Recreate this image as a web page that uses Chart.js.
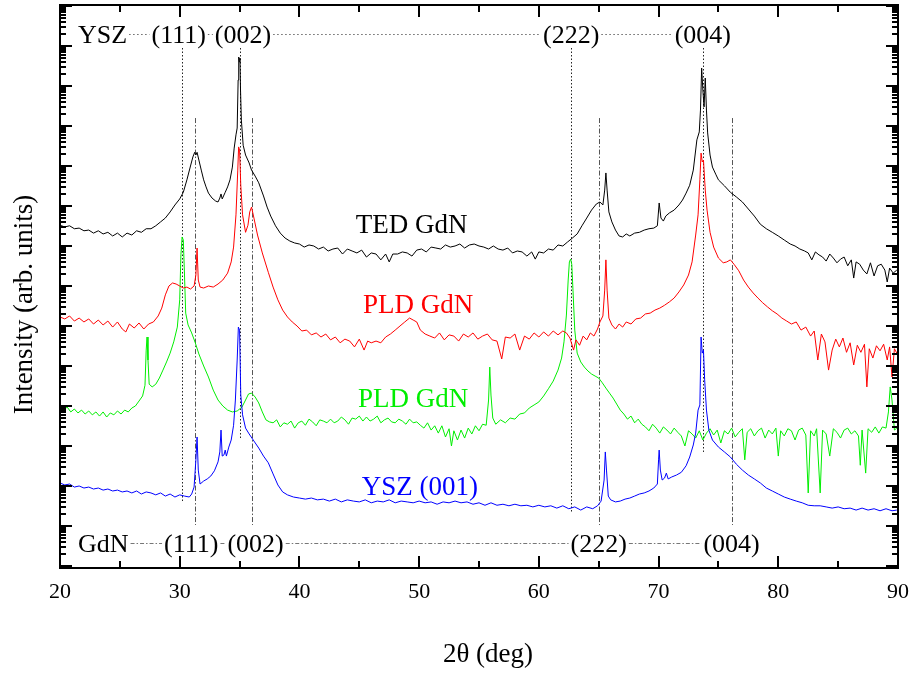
<!DOCTYPE html>
<html>
<head>
<meta charset="utf-8">
<title>XRD GdN on YSZ</title>
<script src="https://cdn.jsdelivr.net/npm/chart.js@4.4.1/dist/chart.umd.min.js"></script>
<style>
  html, body { margin: 0; padding: 0; background: #fff; }
  #wrap { width: 912px; height: 673px; }
</style>
</head>
<body>
<div id="wrap"><canvas id="xrd" width="912" height="673"></canvas></div>
<script>
// theta-2theta scans, each sample shifted by a constant factor on the log axis

// TED GdN (black)
const tedTheta = [20.0,20.4,20.8,21.2,21.6,22.0,22.4,22.8,23.2,23.6,24.0,24.4,24.8,25.2,25.6,26.0,26.4,26.8,27.2,27.6,28.0,28.4,28.8,29.2,29.6,30.0,
  30.3,30.6,30.9,31.1,31.25,31.35,31.45,31.6,31.8,32.0,32.2,32.4,32.7,33.0,33.2,33.35,33.45,33.55,33.8,34.0,
  34.2,34.4,34.55,34.7,34.8,34.88,34.93,34.98,35.03,35.08,35.15,35.3,35.5,35.8,36.0,36.3,36.6,37.0,37.3,37.6,
  38.0,38.4,38.8,39.2,39.6,40.0,40.4,40.8,41.2,41.6,42.0,42.4,42.8,43.2,43.6,44.0,44.4,44.8,45.2,45.6,46.0,46.4,46.8,47.2,47.5,47.8,
  48.2,48.6,49.0,49.4,49.8,50.2,50.6,51.0,51.4,51.8,52.2,52.6,53.0,53.4,53.8,54.2,54.6,55.0,55.4,55.8,56.2,56.6,57.0,57.4,57.8,58.2,58.6,59.0,59.4,59.7,
  60.0,60.4,60.8,61.2,61.6,62.0,62.4,62.8,63.2,63.6,64.0,64.4,64.8,65.1,65.35,65.5,65.6,65.7,65.85,66.1,66.4,66.7,67.0,
  67.3,67.6,68.0,68.4,68.8,69.2,69.6,69.9,70.05,70.2,70.4,70.6,70.9,71.3,71.7,72.0,72.3,72.6,72.9,73.2,
  73.4,73.5,73.6,73.7,73.8,73.9,74.0,74.1,74.3,74.5,74.8,75.0,75.5,76.0,76.5,77.0,77.5,78.0,78.5,79.0,
  79.5,80.0,80.5,81.0,81.4,81.8,82.2,82.5,82.8,83.1,83.4,83.7,84.0,84.3,84.6,84.9,85.2,85.5,85.8,86.1,
  86.3,86.5,86.8,87.1,87.4,87.7,88.0,88.3,88.6,88.9,89.1,89.3,89.6,89.9];
const tedCounts = [3.3e8,3.0e8,3.2e8,2.7e8,2.8e8,2.4e8,2.5e8,2.1e8,2.4e8,2.0e8,2.2e8,1.78e8,2.1e8,1.68e8,2.1e8,1.88e8,2.4e8,2.2e8,2.7e8,2.7e8,3.2e8,4.0e8,5.0e8,7.1e8,1.06e9,1.5e9,
  2.2e9,4.5e9,1.0e10,1.68e10,2.2e10,1.88e10,2.2e10,1.41e10,7.9e9,4.5e9,3.0e9,2.1e9,1.58e9,1.33e9,1.26e9,1.58e9,2.0e9,1.5e9,2.2e9,3.0e9,
  4.5e9,9.4e9,2.8e10,6.0e10,8.9e10,1.41e12,5.3e12,4.0e12,5.0e12,7.9e11,1.41e11,3.3e10,1.88e10,1.19e10,7.9e9,5.6e9,3.8e9,1.78e9,9.4e8,5.6e8,
  3.2e8,2.1e8,1.58e8,1.33e8,1.19e8,1.12e8,9.4e7,1.06e8,1.0e8,8.4e7,9.4e7,7.5e7,8.4e7,8.9e7,6.3e7,8.4e7,7.5e7,6.7e7,7.9e7,5.3e7,6.7e7,6.3e7,4.5e7,6.3e7,4.0e7,6.3e7,
  6.3e7,7.1e7,6.7e7,5.6e7,7.9e7,8.4e7,7.1e7,9.4e7,8.9e7,8.4e7,1.06e8,9.4e7,1.0e8,1.12e8,8.9e7,1.06e8,1.12e8,1.0e8,9.4e7,8.4e7,1.0e8,8.4e7,7.9e7,8.9e7,6.7e7,7.5e7,7.1e7,5.6e7,7.1e7,4.7e7,
  7.1e7,6.7e7,8.4e7,7.9e7,1.06e8,1.0e8,1.26e8,1.58e8,2.0e8,3.2e8,5.0e8,7.9e8,1.12e9,1.26e9,1.06e9,2.5e9,6.7e9,2.5e9,7.1e8,4.0e8,2.5e8,1.78e8,1.68e8,
  2.0e8,1.78e8,2.1e8,2.2e8,2.5e8,2.7e8,2.8e8,3.2e8,1.19e9,5.0e8,4.2e8,5.6e8,6.7e8,7.9e8,1.06e9,1.41e9,2.1e9,3.3e9,7.9e9,4.5e10,
  7.1e10,2.5e11,2.8e12,7.9e11,3.0e11,1.58e12,2.5e11,6.7e10,1.88e10,9.4e9,6.0e9,4.5e9,3.2e9,2.2e9,1.68e9,1.26e9,8.4e8,5.6e8,3.5e8,2.7e8,
  2.2e8,1.78e8,1.41e8,1.12e8,1.0e8,8.4e7,7.5e7,6.7e7,4.5e7,7.1e7,6.0e7,5.3e7,4.2e7,6.3e7,5.0e7,3.8e7,4.7e7,5.3e7,3.2e7,4.5e7,
  1.58e7,4.0e7,3.5e7,2.5e7,2.0e7,3.8e7,1.78e7,3.2e7,3.5e7,2.5e7,1.26e7,2.8e7,2.1e7,2.5e7];

// PLD GdN, first film (red)
const pldRedTheta = [20.0,20.4,20.8,21.2,21.6,22.0,22.4,22.8,23.2,23.6,24.0,24.4,24.8,25.2,25.5,25.8,26.2,26.6,27.0,27.4,
  27.8,28.2,28.5,28.8,29.1,29.4,29.7,30.0,30.3,30.6,30.9,31.2,31.35,31.45,31.55,31.7,32.0,32.4,32.8,33.2,
  33.6,34.0,34.3,34.5,34.7,34.85,34.92,35.0,35.1,35.25,35.5,35.7,35.85,36.0,36.2,36.5,36.9,37.4,37.8,38.2,
  38.6,39.0,39.4,39.8,40.2,40.6,41.0,41.4,41.8,42.2,42.6,43.0,43.4,43.8,44.2,44.6,45.0,45.4,45.7,46.0,
  46.4,46.8,47.2,47.6,48.0,48.4,48.8,49.2,49.5,49.8,50.1,50.5,50.9,51.3,51.7,52.1,52.5,52.9,53.3,53.7,
  54.1,54.5,54.9,55.3,55.7,56.1,56.5,56.9,57.2,57.6,58.0,58.4,58.8,59.2,59.6,60.0,60.4,60.8,61.2,61.6,
  62.0,62.3,62.6,62.9,63.1,63.4,63.7,64.0,64.3,64.6,64.9,65.1,65.35,65.5,65.6,65.7,65.85,66.1,66.4,66.7,
  67.0,67.3,67.7,68.1,68.5,68.9,69.3,69.7,70.1,70.5,70.9,71.3,71.7,72.1,72.5,72.8,73.1,73.3,73.45,73.55,
  73.65,73.75,73.9,74.05,74.3,74.6,75.0,75.4,75.7,76.0,76.3,76.7,77.1,77.5,77.9,78.3,78.7,79.1,79.5,79.9,
  80.3,80.7,81.1,81.5,81.9,82.3,82.7,83.0,83.3,83.6,83.9,84.2,84.5,84.8,85.1,85.4,85.7,86.0,86.3,86.6,
  86.9,87.2,87.4,87.6,87.9,88.2,88.5,88.8,89.1,89.3,89.5,89.7,89.9];
const pldRedCounts = [1.68e6,1.5e6,1.78e6,1.33e6,1.58e6,1.26e6,1.5e6,1.12e6,1.41e6,1.06e6,1.33e6,9.4e5,1.26e6,8.4e5,7.1e5,1.12e6,8.9e5,1.19e6,8.4e5,1.12e6,
  1.26e6,1.78e6,2.8e6,6.0e6,1.0e7,1.19e7,1.12e7,1.0e7,8.9e6,9.4e6,8.4e6,1.0e7,1.88e7,8.9e7,1.41e7,9.4e6,8.9e6,1.0e7,9.4e6,1.12e7,
  1.41e7,2.1e7,4.0e7,9.4e7,6.0e8,7.9e9,3.0e10,2.5e10,3.3e9,6.0e8,2.2e8,3.3e8,7.1e8,9.4e8,5.0e8,1.88e8,6.7e7,2.2e7,9.4e6,4.5e6,
  2.5e6,1.68e6,1.26e6,1.0e6,7.5e5,7.9e5,6.0e5,6.7e5,5.3e5,6.3e5,4.5e5,5.3e5,3.8e5,4.7e5,4.2e5,3.0e5,4.7e5,2.5e5,4.2e5,3.8e5,
  4.2e5,3.8e5,5.3e5,6.3e5,7.9e5,1.0e6,1.26e6,1.58e6,1.41e6,1.26e6,7.9e5,6.3e5,5.6e5,5.0e5,6.7e5,4.5e5,6.0e5,5.6e5,4.2e5,6.3e5,
  5.3e5,6.7e5,4.7e5,5.6e5,6.3e5,4.5e5,4.2e5,1.5e5,5.3e5,5.0e5,6.3e5,2.5e5,5.6e5,4.7e5,6.7e5,5.3e5,7.1e5,5.6e5,7.5e5,6.0e5,
  7.5e5,6.7e5,5.0e5,2.5e5,4.5e5,3.3e5,5.6e5,4.5e5,6.7e5,5.6e5,8.4e5,1.26e6,1.78e6,7.9e6,4.5e7,7.9e6,1.58e6,1.06e6,8.4e5,1.12e6,
  9.4e5,1.26e6,1.12e6,1.5e6,1.58e6,2.0e6,2.1e6,2.5e6,2.8e6,3.3e6,4.0e6,5.0e6,7.1e6,1.06e7,1.88e7,4.0e7,1.88e8,6.0e8,4.5e9,2.1e10,
  1.26e10,1.41e10,2.5e9,7.9e8,2.2e8,9.4e7,5.0e7,3.8e7,4.0e7,4.5e7,3.5e7,2.4e7,1.41e7,9.4e6,6.7e6,5.0e6,3.8e6,3.0e6,2.4e6,2.0e6,
  1.58e6,1.33e6,1.12e6,1.26e6,7.9e5,9.4e5,5.6e5,7.5e5,1.41e5,6.3e5,4.0e5,7.9e4,2.5e5,4.7e5,3.0e5,5.0e5,2.2e5,3.8e5,1.06e5,3.3e5,
  2.2e5,3.5e5,3.0e4,2.7e5,1.58e5,3.2e5,2.4e5,3.5e5,1.41e5,3.0e5,5.3e4,2.7e5,2.1e5];

// PLD GdN, second film (green)
const pldGreenTheta = [20.0,20.3,20.6,20.9,21.2,21.5,21.8,22.1,22.4,22.7,23.0,23.3,23.6,23.9,24.2,24.5,24.8,25.1,25.4,25.7,
  26.0,26.3,26.6,26.9,27.1,27.2,27.27,27.35,27.45,27.7,28.0,28.3,28.6,28.9,29.2,29.5,29.8,30.0,30.1,30.2,
  30.3,30.4,30.5,30.7,31.0,31.3,31.6,32.0,32.4,32.8,33.2,33.6,34.0,34.4,34.8,35.2,35.5,35.75,36.0,36.3,
  36.6,36.9,37.2,37.5,37.8,38.1,38.4,38.7,39.0,39.3,39.6,39.9,40.2,40.5,40.8,41.1,41.4,41.7,42.0,42.3,
  42.6,42.9,43.2,43.5,43.8,44.1,44.4,44.7,45.0,45.3,45.6,45.9,46.2,46.5,46.8,47.1,47.4,47.7,48.0,48.3,
  48.6,48.9,49.2,49.5,49.8,50.1,50.4,50.7,51.0,51.3,51.6,51.9,52.2,52.5,52.7,52.9,53.2,53.5,53.8,54.1,
  54.4,54.7,55.0,55.3,55.6,55.8,55.9,56.0,56.15,56.4,56.8,57.2,57.6,58.0,58.4,58.8,59.2,59.6,60.0,60.4,
  60.8,61.2,61.6,61.9,62.1,62.3,62.45,62.55,62.65,62.75,62.85,63.0,63.2,63.5,63.8,64.1,64.4,64.7,65.0,65.3,
  65.6,65.9,66.2,66.5,66.8,67.1,67.4,67.7,68.0,68.3,68.6,68.9,69.2,69.5,69.8,70.1,70.4,70.7,71.0,71.3,
  71.6,71.9,72.2,72.5,72.8,73.1,73.4,73.7,74.0,74.3,74.6,74.9,75.2,75.5,75.8,76.1,76.4,76.7,77.0,77.2,
  77.4,77.7,78.0,78.3,78.6,78.9,79.2,79.5,79.8,80.0,80.2,80.5,80.8,81.1,81.4,81.7,82.0,82.3,82.5,82.7,
  83.0,83.2,83.5,83.7,84.0,84.3,84.6,84.9,85.2,85.5,85.8,86.1,86.4,86.7,86.85,87.0,87.3,87.5,87.8,88.1,
  88.4,88.7,89.0,89.2,89.35,89.5,89.7,89.9];
const pldGreenCounts = [8.9e3,7.9e3,9.4e3,7.1e3,8.4e3,6.7e3,7.9e3,6.3e3,7.5e3,6.0e3,7.1e3,5.6e3,7.1e3,5.3e3,6.7e3,6.0e3,7.5e3,6.3e3,7.9e3,7.1e3,
  8.9e3,1.0e4,1.33e4,1.78e4,3.3e4,2.5e5,5.3e5,1.41e5,3.5e4,3.0e4,3.5e4,5.0e4,7.9e4,1.26e5,2.1e5,4.0e5,9.4e5,4.5e6,6.0e7,1.68e8,
  1.41e8,1.88e7,2.1e6,1.06e6,6.7e5,3.8e5,2.0e5,1.0e5,5.3e4,2.5e4,1.41e4,1.0e4,7.9e3,7.1e3,7.5e3,9.4e3,1.41e4,2.0e4,2.1e4,1.68e4,
  1.19e4,7.1e3,4.5e3,4.0e3,3.8e3,4.5e3,3.0e3,3.8e3,3.5e3,4.2e3,2.8e3,3.8e3,4.2e3,3.3e3,4.7e3,4.0e3,3.2e3,4.5e3,4.2e3,3.8e3,
  4.7e3,3.8e3,4.2e3,5.3e3,4.5e3,3.5e3,5.0e3,4.7e3,5.6e3,4.2e3,5.3e3,4.2e3,4.7e3,5.6e3,3.8e3,4.5e3,5.0e3,4.0e3,3.8e3,4.7e3,
  4.2e3,3.5e3,4.7e3,3.8e3,4.0e3,3.3e3,2.8e3,3.8e3,2.5e3,3.2e3,2.1e3,3.2e3,1.68e3,2.7e3,1.0e3,2.4e3,1.41e3,2.5e3,1.58e3,2.8e3,
  2.0e3,3.2e3,2.4e3,3.5e3,3.3e3,1.41e4,9.4e4,1.88e4,5.0e3,3.5e3,4.5e3,3.8e3,5.0e3,4.7e3,6.3e3,6.7e3,8.9e3,1.06e4,1.26e4,1.78e4,
  2.7e4,4.2e4,7.9e4,1.58e5,4.0e5,1.88e6,1.41e7,4.0e7,4.7e7,3.5e7,7.9e6,7.9e5,2.1e5,1.26e5,9.4e4,7.5e4,6.3e4,5.6e4,5.0e4,3.8e4,
  2.8e4,2.1e4,1.58e4,1.12e4,7.9e3,6.3e3,4.7e3,5.6e3,3.8e3,4.7e3,3.5e3,3.0e3,2.4e3,3.5e3,2.8e3,2.1e3,3.0e3,2.5e3,2.0e3,2.8e3,
  2.2e3,1.78e3,1.0e3,2.4e3,2.0e3,1.58e3,2.4e3,1.41e3,2.1e3,2.7e3,1.88e3,2.5e3,1.19e3,2.4e3,2.0e3,2.8e3,1.68e3,2.2e3,2.7e3,4.5e2,
  2.2e3,2.7e3,1.78e3,2.4e3,2.8e3,1.58e3,2.5e3,2.0e3,2.8e3,5.6e2,2.4e3,1.78e3,2.7e3,2.4e3,1.41e3,2.5e3,2.8e3,1.88e3,6.7e1,2.4e3,
  1.78e3,2.7e3,6.7e1,2.5e3,2.0e3,5.6e2,2.7e3,2.2e3,1.58e3,2.5e3,2.8e3,2.0e3,2.4e3,1.78e3,3.3e2,2.5e3,2.1e2,2.7e3,2.2e3,3.0e3,
  2.1e3,3.0e3,2.8e3,7.1e3,3.0e4,1.41e4,2.5e3,2.8e3];

// bare YSZ (001) substrate (blue)
const yszTheta = [20.0,20.4,20.8,21.2,21.6,22.0,22.4,22.8,23.2,23.6,24.0,24.4,24.8,25.2,25.6,26.0,26.4,26.8,27.2,27.6,
  28.0,28.4,28.8,29.2,29.6,30.0,30.4,30.8,31.0,31.2,31.35,31.45,31.55,31.7,32.0,32.3,32.6,32.9,33.2,33.35,
  33.45,33.55,33.7,33.8,33.9,34.1,34.3,34.5,34.65,34.8,34.9,35.0,35.1,35.25,35.5,35.8,36.2,36.6,37.0,37.4,
  37.8,38.2,38.6,39.0,39.5,40.0,40.5,41.0,41.5,42.0,42.5,43.0,43.5,44.0,44.5,45.0,45.5,46.0,46.5,47.0,
  47.5,48.0,48.5,49.0,49.5,50.0,50.5,51.0,51.5,52.0,52.5,53.0,53.5,54.0,54.5,55.0,55.5,56.0,56.5,57.0,
  57.5,58.0,58.5,59.0,59.5,60.0,60.5,61.0,61.5,62.0,62.5,63.0,63.5,64.0,64.5,64.9,65.2,65.45,65.55,65.65,
  65.8,66.0,66.4,66.8,67.2,67.6,68.0,68.4,68.8,69.2,69.6,69.9,70.0,70.05,70.15,70.3,70.5,70.65,70.8,71.1,
  71.5,71.9,72.3,72.6,72.9,73.1,73.3,73.45,73.55,73.65,73.75,73.85,74.0,74.2,74.5,75.0,75.5,76.0,76.5,77.0,
  77.5,78.0,78.5,79.0,79.5,80.0,80.5,81.0,81.5,82.0,82.5,83.0,83.5,84.0,84.5,85.0,85.5,86.0,86.5,87.0,
  87.5,88.0,88.5,89.0,89.5,89.9];
const yszCounts = [119,106,112,94,100,89,94,84,89,79,84,75,79,71,75,67,75,63,71,67,
  60,67,56,63,53,60,56,53,63,94,450,1680,250,112,133,150,178,240,400,710,
  2500,560,600,790,560,940,1410,3300,1.41e4,1.41e5,9.4e5,7.9e5,1.88e4,6000,2800,2000,1330,890,560,380,
  200,106,71,60,53,50,47,50,45,47,42,47,40,45,42,40,45,38,42,40,
  45,38,42,40,38,42,38,40,35,40,38,42,38,40,35,38,33,38,33,35,
  32,35,32,33,30,33,30,32,28,32,27,30,25,30,27,32,42,141,710,250,
  56,45,40,42,47,50,56,63,67,75,89,112,450,790,250,141,158,210,150,168,
  188,220,320,530,1060,2100,7900,1.06e4,5.3e5,2.1e5,2.5e5,4.5e4,7900,2500,1410,940,710,530,350,250,
  188,150,119,89,75,63,53,47,42,38,33,32,32,30,28,30,27,28,25,28,
  25,27,24,27,24,25];

// reflection positions (2theta, deg)
const reflections = ['(111)', '(002)', '(222)', '(004)'];
const yszRefTheta = [30.2, 35.0, 62.7, 73.7];
const gdnRefTheta = [31.3, 36.0, 65.0, 76.1];
const angleTicks = [20, 30, 40, 50, 60, 70, 80, 90];

const SERIF = '"Liberation Serif", "Times New Roman", Times, serif';

function pairs(theta, counts) {
  return theta.map((t, i) => ({ x: t, y: counts[i] }));
}

// dashed drop lines, hkl label rows, curve names, boxed frame with inward ticks
const xrdDecor = {
  id: 'xrdDecor',
  beforeDatasetsDraw(chart, args, opts) {
    const { ctx, chartArea: a, scales: { x, y } } = chart;
    ctx.save();
    ctx.beginPath();
    ctx.rect(a.left, a.top, a.right - a.left, a.bottom - a.top);
    ctx.clip();
    ctx.lineWidth = 1;

    ctx.strokeStyle = '#222';
    ctx.setLineDash([1.5, 2]);
    yszRefTheta.forEach((t, i) => {
      const px = Math.round(x.getPixelForValue(t)) + 0.5;
      ctx.beginPath();
      ctx.moveTo(px, y.getPixelForValue(opts.yszTop));
      ctx.lineTo(px, y.getPixelForValue(opts.yszDrop[i]));
      ctx.stroke();
    });

    ctx.strokeStyle = '#555';
    ctx.setLineDash([5, 2, 1.5, 2]);
    gdnRefTheta.forEach((t) => {
      const px = Math.round(x.getPixelForValue(t)) + 0.5;
      ctx.beginPath();
      ctx.moveTo(px, y.getPixelForValue(opts.gdnTop));
      ctx.lineTo(px, y.getPixelForValue(opts.gdnDrop));
      ctx.stroke();
    });
    ctx.restore();
  },
  afterDraw(chart, args, opts) {
    const { ctx, chartArea: a, scales: { x, y } } = chart;
    ctx.save();

    // hkl rows
    const row = (head, thetas, baseline, lineY, dash, color) => {
      ctx.font = '26px ' + SERIF;
      ctx.fillStyle = '#000';
      ctx.textAlign = 'left';
      ctx.textBaseline = 'alphabetic';
      const boxes = [];
      const hw = ctx.measureText(head).width;
      boxes.push({ l: a.left + 18, w: hw, text: head });
      const items = thetas.map((t, i) => {
        const w = ctx.measureText(reflections[i]).width;
        return { c: x.getPixelForValue(t), w, text: reflections[i] };
      });
      for (let i = 1; i < items.length; i++) {
        const gap = (items[i].c - items[i].w / 2) - (items[i - 1].c + items[i - 1].w / 2);
        if (gap < 9) {
          const s = (9 - gap) / 2;
          items[i - 1].c -= s;
          items[i].c += s;
        }
      }
      items.forEach(it => boxes.push({ l: it.c - it.w / 2, w: it.w, text: it.text }));
      boxes.forEach(b => ctx.fillText(b.text, b.l, baseline));
      ctx.strokeStyle = color;
      ctx.lineWidth = 1;
      ctx.setLineDash(dash);
      for (let i = 1; i < boxes.length; i++) {
        const x0 = boxes[i - 1].l + boxes[i - 1].w + 2;
        const x1 = boxes[i].l - 2;
        if (x1 <= x0) continue;
        ctx.beginPath();
        ctx.moveTo(x0, lineY + 0.5);
        ctx.lineTo(x1, lineY + 0.5);
        ctx.stroke();
      }
      ctx.setLineDash([]);
    };
    row('YSZ', yszRefTheta, a.top + 38, a.top + 29, [1.5, 2.5], '#666');
    row('GdN', gdnRefTheta, a.bottom - 16, a.bottom - 25, [4, 2, 1.5, 2], '#777');

    // curve names
    ctx.font = '27px ' + SERIF;
    ctx.textAlign = 'left';
    ctx.textBaseline = 'alphabetic';
    chart.data.datasets.forEach(ds => {
      ctx.fillStyle = ds.borderColor;
      ctx.fillText(ds.label, x.getPixelForValue(ds.nameAt[0]), y.getPixelForValue(ds.nameAt[1]));
    });

    // frame
    ctx.strokeStyle = '#000';
    ctx.lineWidth = 2;
    ctx.strokeRect(a.left, a.top, a.right - a.left, a.bottom - a.top);

    // x ticks (top and bottom, inward)
    ctx.beginPath();
    for (let v = 20; v <= 90; v += 5) {
      const px = Math.round(x.getPixelForValue(v));
      const len = v % 10 === 0 ? 12 : 7;
      ctx.moveTo(px, a.bottom);
      ctx.lineTo(px, a.bottom - len);
      ctx.moveTo(px, a.top);
      ctx.lineTo(px, a.top + len);
    }
    // log ticks (left and right, inward)
    for (let n = 0; n <= 14; n++) {
      for (let k = 1; k <= 9; k++) {
        const v = k * Math.pow(10, n);
        if (v < y.min || v > y.max) continue;
        const py = Math.round(y.getPixelForValue(v));
        const len = k === 1 ? 12 : 6;
        ctx.moveTo(a.left, py);
        ctx.lineTo(a.left + len, py);
        ctx.moveTo(a.right, py);
        ctx.lineTo(a.right - len, py);
      }
    }
    ctx.stroke();

    // axis titles
    ctx.fillStyle = '#000';
    ctx.font = '27px ' + SERIF;
    ctx.textAlign = 'center';
    ctx.fillText('2\u03b8 (deg)', (a.left + a.right) / 2 + 9, a.bottom + 94);
    ctx.translate(a.left - 28, (a.top + a.bottom) / 2 + 18);
    ctx.rotate(-Math.PI / 2);
    ctx.fillText('Intensity (arb. units)', 0, 0);
    ctx.restore();
  }
};

new Chart(document.getElementById('xrd'), {
  type: 'line',
  data: {
    datasets: [
      { label: 'TED GdN', data: pairs(tedTheta, tedCounts), borderColor: '#000000', nameAt: [44.7, 2.1e8] },
      { label: 'PLD GdN', data: pairs(pldRedTheta, pldRedCounts), borderColor: '#ff0000', nameAt: [45.3, 2.1e6] },
      { label: 'YSZ (001)', data: pairs(yszTheta, yszCounts), borderColor: '#0000ff', nameAt: [45.2, 60] },
      { label: 'PLD GdN', data: pairs(pldGreenTheta, pldGreenCounts), borderColor: '#00ee00', nameAt: [44.9, 9.4e3] }
    ]
  },
  options: {
    responsive: false,
    animation: false,
    devicePixelRatio: 1,
    layout: { padding: { top: 5, right: 14, bottom: 0, left: 0 } },
    elements: {
      point: { radius: 0 },
      line: { borderWidth: 1, tension: 0, fill: false }
    },
    plugins: {
      legend: { display: false },
      tooltip: { enabled: false },
      xrdDecor: {
        yszTop: 8.9e12,
        yszDrop: [38, 1410, 21, 710],
        gdnTop: 1.58e11,
        gdnDrop: 10.6
      }
    },
    scales: {
      x: {
        type: 'linear',
        min: 20,
        max: 90,
        grid: { display: false, drawTicks: false },
        border: { display: false },
        afterBuildTicks(s) { s.ticks = angleTicks.map(v => ({ value: v })); },
        ticks: { padding: 11, color: '#000', maxRotation: 0, font: { family: SERIF, size: 22 } },
        afterFit(s) { s.height = 105; s.paddingLeft = 0; s.paddingRight = 0; }
      },
      y: {
        type: 'logarithmic',
        min: 0.891,
        max: 1.059e14,
        grid: { display: false, drawTicks: false },
        border: { display: false },
        ticks: { display: false },
        afterFit(s) { s.width = 60; s.paddingTop = 0; s.paddingBottom = 0; }
      }
    }
  },
  plugins: [xrdDecor]
});
</script>
</body>
</html>
